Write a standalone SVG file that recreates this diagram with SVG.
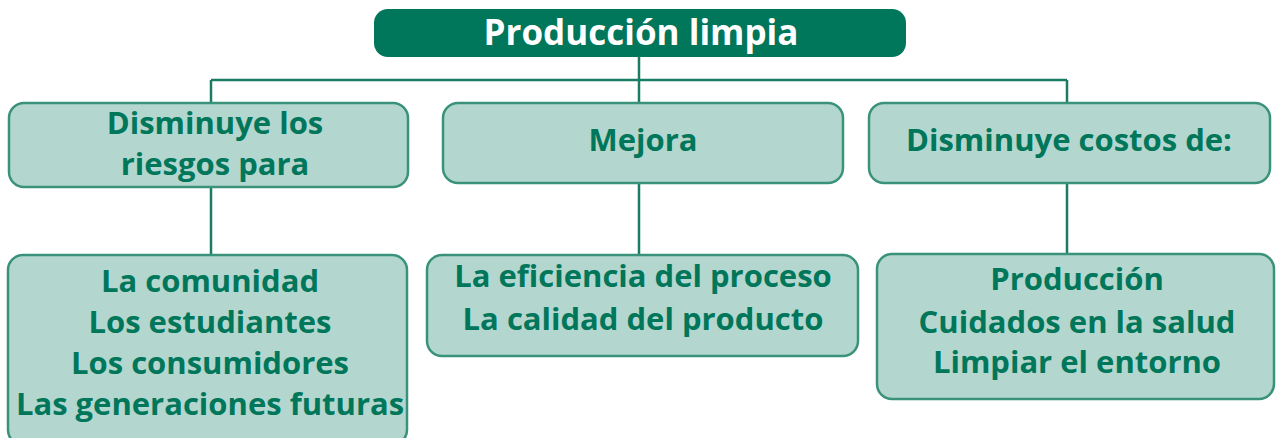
<svg xmlns="http://www.w3.org/2000/svg" width="1276" height="438" viewBox="0 0 1276 438">
<style>
.box{fill:#b3d7cf;stroke:#3a927a;stroke-width:2.5}
.t{font-family:"Open Sans","Noto Sans",sans-serif;font-weight:700;font-size:31px;fill:#00765a;text-anchor:middle}
.title{font-family:"Open Sans","Noto Sans",sans-serif;font-weight:700;font-size:35px;fill:#ffffff;text-anchor:middle}
.ln{stroke:#1a7d63;stroke-width:2.5;fill:none}
</style>
<rect width="1276" height="438" fill="#ffffff"/>
<g id="connectors">
<path class="ln" d="M639 56V103 M211 80H1067 M211 80V103 M1067 80V102 M211 187V255 M639 183V255 M1067 183V254"/>
</g>
<g id="root">
<rect x="374" y="9" width="532" height="48" rx="14" fill="#00765a"/>
<text class="title" x="641" y="45">Producción limpia</text>
</g>
<g id="n1">
<rect class="box" x="9" y="103" width="399" height="84" rx="15"/>
<text class="t" x="215" y="134">Disminuye los</text>
<text class="t" x="215" y="175">riesgos para</text>
</g>
<g id="n2">
<rect class="box" x="443" y="103" width="400" height="80" rx="15"/>
<text class="t" x="643" y="151">Mejora</text>
</g>
<g id="n3">
<rect class="box" x="869" y="103" width="401" height="80" rx="15"/>
<text class="t" x="1069" y="151">Disminuye costos de:</text>
</g>
<g id="n4">
<rect class="box" x="8" y="255" width="399" height="190" rx="15"/>
<text class="t" x="210" y="292">La comunidad</text>
<text class="t" x="210" y="333">Los estudiantes</text>
<text class="t" x="210" y="374">Los consumidores</text>
<text class="t" x="210" y="415">Las generaciones futuras</text>
</g>
<g id="n5">
<rect class="box" x="427" y="255" width="431" height="101" rx="15"/>
<text class="t" x="643" y="287">La eficiencia del proceso</text>
<text class="t" x="643" y="330">La calidad del producto</text>
</g>
<g id="n6">
<rect class="box" x="877" y="254" width="397" height="145" rx="15"/>
<text class="t" x="1077" y="290">Producción</text>
<text class="t" x="1077" y="333">Cuidados en la salud</text>
<text class="t" x="1077" y="373">Limpiar el entorno</text>
</g>
</svg>
